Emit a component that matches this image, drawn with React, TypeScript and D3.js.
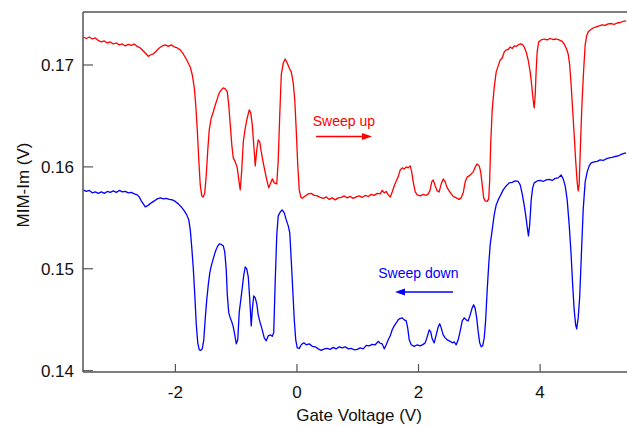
import React from "react";
import * as d3 from "d3";

// Sweep up (red): gate voltage (V) and MIM-Im signal (V)
const upV = [
  -3.515, -3.466, -3.416, -3.367, -3.318, -3.268, -3.219, -3.170, -3.120, -3.071,
  -3.021, -2.972, -2.923, -2.873, -2.824, -2.775, -2.725, -2.676, -2.627, -2.577,
  -2.528, -2.479, -2.446, -2.413, -2.364, -2.314, -2.265, -2.216, -2.166, -2.117,
  -2.068, -2.018, -1.969, -1.920, -1.870, -1.821, -1.788, -1.755, -1.722, -1.689,
  -1.665, -1.640, -1.615, -1.591, -1.566, -1.541, -1.517, -1.492, -1.467, -1.443,
  -1.410, -1.377, -1.344, -1.311, -1.278, -1.245, -1.212, -1.179, -1.146, -1.122,
  -1.097, -1.072, -1.048, -1.015, -0.982, -0.957, -0.933, -0.908, -0.883, -0.850,
  -0.818, -0.785, -0.760, -0.735, -0.711, -0.686, -0.661, -0.637, -0.612, -0.587,
  -0.554, -0.521, -0.489, -0.464, -0.439, -0.406, -0.373, -0.332, -0.308, -0.283,
  -0.258, -0.225, -0.193, -0.160, -0.127, -0.094, -0.061, -0.036, -0.012, 0.013,
  0.038, 0.062, 0.087, 0.136, 0.186, 0.235, 0.285, 0.334, 0.383, 0.433,
  0.482, 0.531, 0.581, 0.630, 0.679, 0.729, 0.778, 0.827, 0.877, 0.926,
  0.975, 1.025, 1.074, 1.123, 1.173, 1.222, 1.271, 1.321, 1.370, 1.403,
  1.436, 1.469, 1.502, 1.535, 1.567, 1.600, 1.633, 1.666, 1.699, 1.732,
  1.765, 1.798, 1.831, 1.863, 1.888, 1.913, 1.946, 1.979, 2.028, 2.077,
  2.127, 2.160, 2.192, 2.217, 2.242, 2.275, 2.308, 2.340, 2.373, 2.406,
  2.439, 2.472, 2.505, 2.538, 2.571, 2.620, 2.669, 2.702, 2.735, 2.768,
  2.801, 2.834, 2.867, 2.900, 2.933, 2.965, 2.998, 3.023, 3.048, 3.072,
  3.097, 3.130, 3.155, 3.171, 3.187, 3.212, 3.245, 3.278, 3.311, 3.344,
  3.377, 3.410, 3.442, 3.475, 3.508, 3.541, 3.574, 3.607, 3.640, 3.673,
  3.706, 3.738, 3.771, 3.804, 3.837, 3.862, 3.886, 3.903, 3.919, 3.936,
  3.952, 3.977, 4.018, 4.067, 4.117, 4.166, 4.215, 4.265, 4.314, 4.363,
  4.396, 4.429, 4.462, 4.487, 4.511, 4.536, 4.561, 4.585, 4.610, 4.627,
  4.643, 4.659, 4.676, 4.692, 4.717, 4.742, 4.766, 4.791, 4.824, 4.873,
  4.923, 4.972, 5.021, 5.071, 5.120, 5.169, 5.219, 5.268, 5.317, 5.367,
  5.416,
];
const upSignal = [
  0.17275, 0.17260, 0.17275, 0.17255, 0.17265, 0.17241, 0.17226, 0.17236, 0.17216, 0.17226,
  0.17206, 0.17216, 0.17197, 0.17206, 0.17187, 0.17202, 0.17192, 0.17206, 0.17182, 0.17167,
  0.17138, 0.17108, 0.17084, 0.17098, 0.17108, 0.17138, 0.17167, 0.17187, 0.17197, 0.17182,
  0.17197, 0.17177, 0.17167, 0.17148, 0.17108, 0.17059, 0.17020, 0.16981, 0.16902, 0.16775,
  0.16608, 0.16363, 0.16068, 0.15823, 0.15715, 0.15705, 0.15745, 0.15921, 0.16167, 0.16363,
  0.16480, 0.16539, 0.16608, 0.16667, 0.16726, 0.16755, 0.16775, 0.16765, 0.16736, 0.16608,
  0.16412, 0.16216, 0.16088, 0.16049, 0.15990, 0.15872, 0.15774, 0.15970, 0.16245, 0.16382,
  0.16480, 0.16559, 0.16530, 0.16412, 0.16216, 0.16010, 0.16167, 0.16265, 0.16245, 0.16147,
  0.16039, 0.15941, 0.15853, 0.15794, 0.15833, 0.15882, 0.15843, 0.15833, 0.16068, 0.16510,
  0.16902, 0.17020, 0.17059, 0.17020, 0.16971, 0.16932, 0.16824, 0.16657, 0.16363, 0.16019,
  0.15774, 0.15705, 0.15691, 0.15715, 0.15735, 0.15740, 0.15720, 0.15715, 0.15700, 0.15691,
  0.15705, 0.15681, 0.15696, 0.15676, 0.15696, 0.15700, 0.15715, 0.15696, 0.15710, 0.15691,
  0.15705, 0.15715, 0.15700, 0.15720, 0.15710, 0.15730, 0.15720, 0.15740, 0.15735, 0.15769,
  0.15745, 0.15759, 0.15725, 0.15705, 0.15754, 0.15813, 0.15862, 0.15902, 0.15970, 0.15990,
  0.15980, 0.16000, 0.15990, 0.16010, 0.15951, 0.15853, 0.15754, 0.15725, 0.15715, 0.15730,
  0.15720, 0.15735, 0.15774, 0.15853, 0.15872, 0.15813, 0.15764, 0.15754, 0.15833, 0.15882,
  0.15853, 0.15794, 0.15764, 0.15735, 0.15710, 0.15696, 0.15681, 0.15696, 0.15745, 0.15853,
  0.15902, 0.15911, 0.15931, 0.15951, 0.16000, 0.16029, 0.16010, 0.15951, 0.15823, 0.15696,
  0.15666, 0.15661, 0.15686, 0.15872, 0.16216, 0.16559, 0.16775, 0.16932, 0.16991, 0.17049,
  0.17069, 0.17128, 0.17148, 0.17152, 0.17177, 0.17162, 0.17187, 0.17182, 0.17197, 0.17206,
  0.17202, 0.17177, 0.17128, 0.17049, 0.16932, 0.16804, 0.16657, 0.16579, 0.16696, 0.16951,
  0.17128, 0.17226, 0.17246, 0.17255, 0.17246, 0.17260, 0.17250, 0.17255, 0.17246, 0.17231,
  0.17206, 0.17167, 0.17108, 0.17000, 0.16804, 0.16559, 0.16314, 0.16068, 0.15853, 0.15764,
  0.15823, 0.16117, 0.16412, 0.16657, 0.16951, 0.17197, 0.17285, 0.17324, 0.17344, 0.17363,
  0.17373, 0.17383, 0.17393, 0.17388, 0.17403, 0.17407, 0.17398, 0.17412, 0.17417, 0.17427,
  0.17432,
];

// Sweep down (blue)
const downV = [
  -3.515, -3.466, -3.416, -3.367, -3.318, -3.268, -3.219, -3.170, -3.120, -3.071,
  -3.021, -2.972, -2.923, -2.873, -2.824, -2.775, -2.725, -2.676, -2.627, -2.594,
  -2.561, -2.528, -2.495, -2.462, -2.429, -2.396, -2.347, -2.298, -2.248, -2.199,
  -2.150, -2.100, -2.051, -2.002, -1.952, -1.903, -1.854, -1.813, -1.780, -1.755,
  -1.730, -1.706, -1.681, -1.656, -1.632, -1.607, -1.582, -1.558, -1.533, -1.508,
  -1.484, -1.459, -1.434, -1.410, -1.377, -1.344, -1.311, -1.278, -1.245, -1.212,
  -1.188, -1.163, -1.146, -1.122, -1.097, -1.072, -1.048, -1.023, -0.998, -0.974,
  -0.949, -0.924, -0.900, -0.875, -0.850, -0.826, -0.801, -0.776, -0.752, -0.735,
  -0.711, -0.686, -0.661, -0.637, -0.604, -0.571, -0.538, -0.505, -0.472, -0.439,
  -0.406, -0.382, -0.357, -0.332, -0.308, -0.275, -0.242, -0.209, -0.176, -0.143,
  -0.118, -0.094, -0.069, -0.044, -0.020, 0.005, 0.038, 0.071, 0.112, 0.153,
  0.202, 0.252, 0.301, 0.350, 0.400, 0.449, 0.498, 0.548, 0.597, 0.646,
  0.696, 0.745, 0.794, 0.844, 0.893, 0.942, 0.992, 1.041, 1.090, 1.140,
  1.189, 1.238, 1.288, 1.337, 1.370, 1.403, 1.436, 1.469, 1.502, 1.535,
  1.567, 1.600, 1.633, 1.666, 1.699, 1.732, 1.765, 1.798, 1.822, 1.847,
  1.880, 1.929, 1.979, 2.028, 2.077, 2.110, 2.143, 2.176, 2.201, 2.225,
  2.258, 2.291, 2.324, 2.349, 2.373, 2.406, 2.439, 2.472, 2.521, 2.554,
  2.587, 2.620, 2.653, 2.686, 2.719, 2.752, 2.785, 2.817, 2.850, 2.883,
  2.908, 2.933, 2.957, 2.982, 3.007, 3.031, 3.056, 3.081, 3.105, 3.130,
  3.155, 3.179, 3.212, 3.245, 3.278, 3.311, 3.344, 3.393, 3.442, 3.492,
  3.541, 3.590, 3.640, 3.673, 3.706, 3.738, 3.763, 3.788, 3.809, 3.829,
  3.854, 3.878, 3.903, 3.952, 4.002, 4.051, 4.100, 4.150, 4.199, 4.248,
  4.298, 4.347, 4.380, 4.413, 4.446, 4.479, 4.511, 4.536, 4.561, 4.585,
  4.602, 4.627, 4.651, 4.676, 4.709, 4.742, 4.775, 4.808, 4.840, 4.890,
  4.939, 4.988, 5.038, 5.087, 5.136, 5.186, 5.235, 5.285, 5.334, 5.383,
  5.416,
];
const downSignal = [
  0.15774, 0.15759, 0.15769, 0.15745, 0.15754, 0.15740, 0.15754, 0.15740, 0.15759, 0.15750,
  0.15764, 0.15750, 0.15769, 0.15754, 0.15759, 0.15745, 0.15750, 0.15735, 0.15725, 0.15705,
  0.15666, 0.15637, 0.15607, 0.15617, 0.15632, 0.15647, 0.15666, 0.15686, 0.15696, 0.15686,
  0.15691, 0.15681, 0.15676, 0.15661, 0.15637, 0.15607, 0.15568, 0.15529, 0.15480, 0.15382,
  0.15205, 0.15009, 0.14744, 0.14450, 0.14273, 0.14205, 0.14200, 0.14214, 0.14303, 0.14518,
  0.14695, 0.14842, 0.14960, 0.15029, 0.15097, 0.15166, 0.15215, 0.15244, 0.15239, 0.15225,
  0.15166, 0.14989, 0.14744, 0.14567, 0.14518, 0.14479, 0.14430, 0.14352, 0.14263, 0.14303,
  0.14577, 0.14695, 0.14813, 0.14940, 0.15019, 0.14999, 0.14921, 0.14695, 0.14440, 0.14597,
  0.14734, 0.14715, 0.14656, 0.14548, 0.14469, 0.14401, 0.14322, 0.14293, 0.14342, 0.14352,
  0.14337, 0.14371, 0.14891, 0.15333, 0.15519, 0.15558, 0.15578, 0.15548, 0.15480, 0.15421,
  0.15352, 0.15087, 0.14793, 0.14499, 0.14303, 0.14224, 0.14219, 0.14254, 0.14273, 0.14254,
  0.14263, 0.14239, 0.14234, 0.14214, 0.14200, 0.14214, 0.14219, 0.14209, 0.14229, 0.14214,
  0.14234, 0.14224, 0.14234, 0.14214, 0.14219, 0.14205, 0.14209, 0.14224, 0.14214, 0.14249,
  0.14244, 0.14258, 0.14254, 0.14288, 0.14268, 0.14263, 0.14214, 0.14254, 0.14303, 0.14342,
  0.14401, 0.14440, 0.14469, 0.14499, 0.14513, 0.14518, 0.14499, 0.14489, 0.14420, 0.14303,
  0.14254, 0.14239, 0.14254, 0.14244, 0.14258, 0.14273, 0.14332, 0.14401, 0.14381, 0.14313,
  0.14273, 0.14352, 0.14430, 0.14460, 0.14420, 0.14352, 0.14322, 0.14303, 0.14288, 0.14273,
  0.14283, 0.14254, 0.14303, 0.14391, 0.14489, 0.14518, 0.14499, 0.14489, 0.14548, 0.14616,
  0.14646, 0.14607, 0.14518, 0.14381, 0.14273, 0.14234, 0.14244, 0.14322, 0.14499, 0.14793,
  0.15038, 0.15235, 0.15382, 0.15529, 0.15627, 0.15676, 0.15715, 0.15774, 0.15813, 0.15843,
  0.15848, 0.15862, 0.15857, 0.15823, 0.15735, 0.15627, 0.15529, 0.15411, 0.15323, 0.15431,
  0.15676, 0.15794, 0.15843, 0.15862, 0.15867, 0.15857, 0.15872, 0.15877, 0.15867, 0.15887,
  0.15892, 0.15921, 0.15882, 0.15813, 0.15676, 0.15431, 0.15136, 0.14842, 0.14597, 0.14450,
  0.14411, 0.14518, 0.14715, 0.15087, 0.15578, 0.15853, 0.15951, 0.16010, 0.16039, 0.16049,
  0.16054, 0.16068, 0.16063, 0.16078, 0.16088, 0.16093, 0.16102, 0.16107, 0.16122, 0.16132,
  0.16137,
];

const xTicks = [-2, 0, 2, 4];
const yTicks = [0.14, 0.15, 0.16, 0.17];

// Annotation anchors, in data units
const upLabel = { text: "Sweep up", v: 0.259, s: 0.16397 };
const upArrow = { from: 0.313, to: 1.235, s: 0.16297 };
const downLabel = { text: "Sweep down", v: 1.338, s: 0.14911 };
const downArrow = { from: 2.567, to: 1.613, s: 0.14771 };

const W = 627;
const H = 426;
const left = 83;
const right = 627;
const top = 12;
const bottom = 372;
const FONT = "'Liberation Sans', Arial, Helvetica, sans-serif";
const AXIS = "#555";

export default function App() {
  const x = d3.scaleLinear().domain([-3.52, 5.43]).range([left, right]);
  const y = d3.scaleLinear().domain([0.13987, 0.1752]).range([bottom, top]);

  const line = d3
    .line<[number, number]>()
    .x((d) => x(d[0]))
    .y((d) => y(d[1]));

  const upPts = upV.map((v, i) => [v, upSignal[i]] as [number, number]);
  const downPts = downV.map((v, i) => [v, downSignal[i]] as [number, number]);

  const arrow = (a: { from: number; to: number; s: number }, color: string) => {
    const x0 = x(a.from);
    const x1 = x(a.to);
    const yy = y(a.s);
    const dir = Math.sign(x1 - x0);
    const headLen = 10;
    const headHalf = 3.5;
    const xb = x1 - dir * headLen;
    return (
      <g>
        <line x1={x0} y1={yy} x2={xb} y2={yy} stroke={color} strokeWidth={1.5} />
        <path d={`M${x1},${yy} L${xb},${yy - headHalf} L${xb},${yy + headHalf} Z`} fill={color} />
      </g>
    );
  };

  return (
    <svg
      width={W}
      height={H}
      style={{ position: "absolute", left: 0, top: 0, background: "#fff" }}
      fontFamily={FONT}
    >
      <rect width={W} height={H} fill="#fff" />

      <path d={line(upPts) ?? ""} fill="none" stroke="#ff0000" strokeWidth={1.3} strokeLinejoin="round" />
      <path d={line(downPts) ?? ""} fill="none" stroke="#0000ff" strokeWidth={1.3} strokeLinejoin="round" />

      {/* frame */}
      <line x1={left} y1={top} x2={right} y2={top} stroke={AXIS} strokeWidth={1.5} />
      <line x1={left} y1={bottom} x2={right} y2={bottom} stroke={AXIS} strokeWidth={1.5} />
      <line x1={left} y1={top} x2={left} y2={bottom} stroke={AXIS} strokeWidth={1.5} />

      {/* x axis */}
      {xTicks.map((t) => (
        <g key={`x${t}`}>
          <line x1={x(t)} y1={bottom} x2={x(t)} y2={bottom - 8} stroke={AXIS} strokeWidth={1.2} />
          <text x={x(t)} y={398} textAnchor="middle" fontSize={17} fill="#111">
            {t}
          </text>
        </g>
      ))}
      <text x={359} y={421} textAnchor="middle" fontSize={17} fill="#111">
        Gate Voltage (V)
      </text>

      {/* y axis */}
      {yTicks.map((t) => (
        <g key={`y${t}`}>
          <line x1={left} y1={y(t)} x2={left + 10} y2={y(t)} stroke={AXIS} strokeWidth={1.2} />
          <text x={74} y={y(t)} dy="0.36em" textAnchor="end" fontSize={17} fill="#111">
            {d3.format(".2f")(t)}
          </text>
        </g>
      ))}
      <text
        transform={`translate(29,185) rotate(-90)`}
        textAnchor="middle"
        fontSize={17}
        fill="#111"
      >
        MIM-Im (V)
      </text>

      {/* sweep direction annotations */}
      <text x={x(upLabel.v)} y={y(upLabel.s)} fontSize={14} fill="#ff0000">
        {upLabel.text}
      </text>
      {arrow(upArrow, "#ff0000")}
      <text x={x(downLabel.v)} y={y(downLabel.s)} fontSize={14} fill="#0000ff">
        {downLabel.text}
      </text>
      {arrow(downArrow, "#0000ff")}
    </svg>
  );
}
